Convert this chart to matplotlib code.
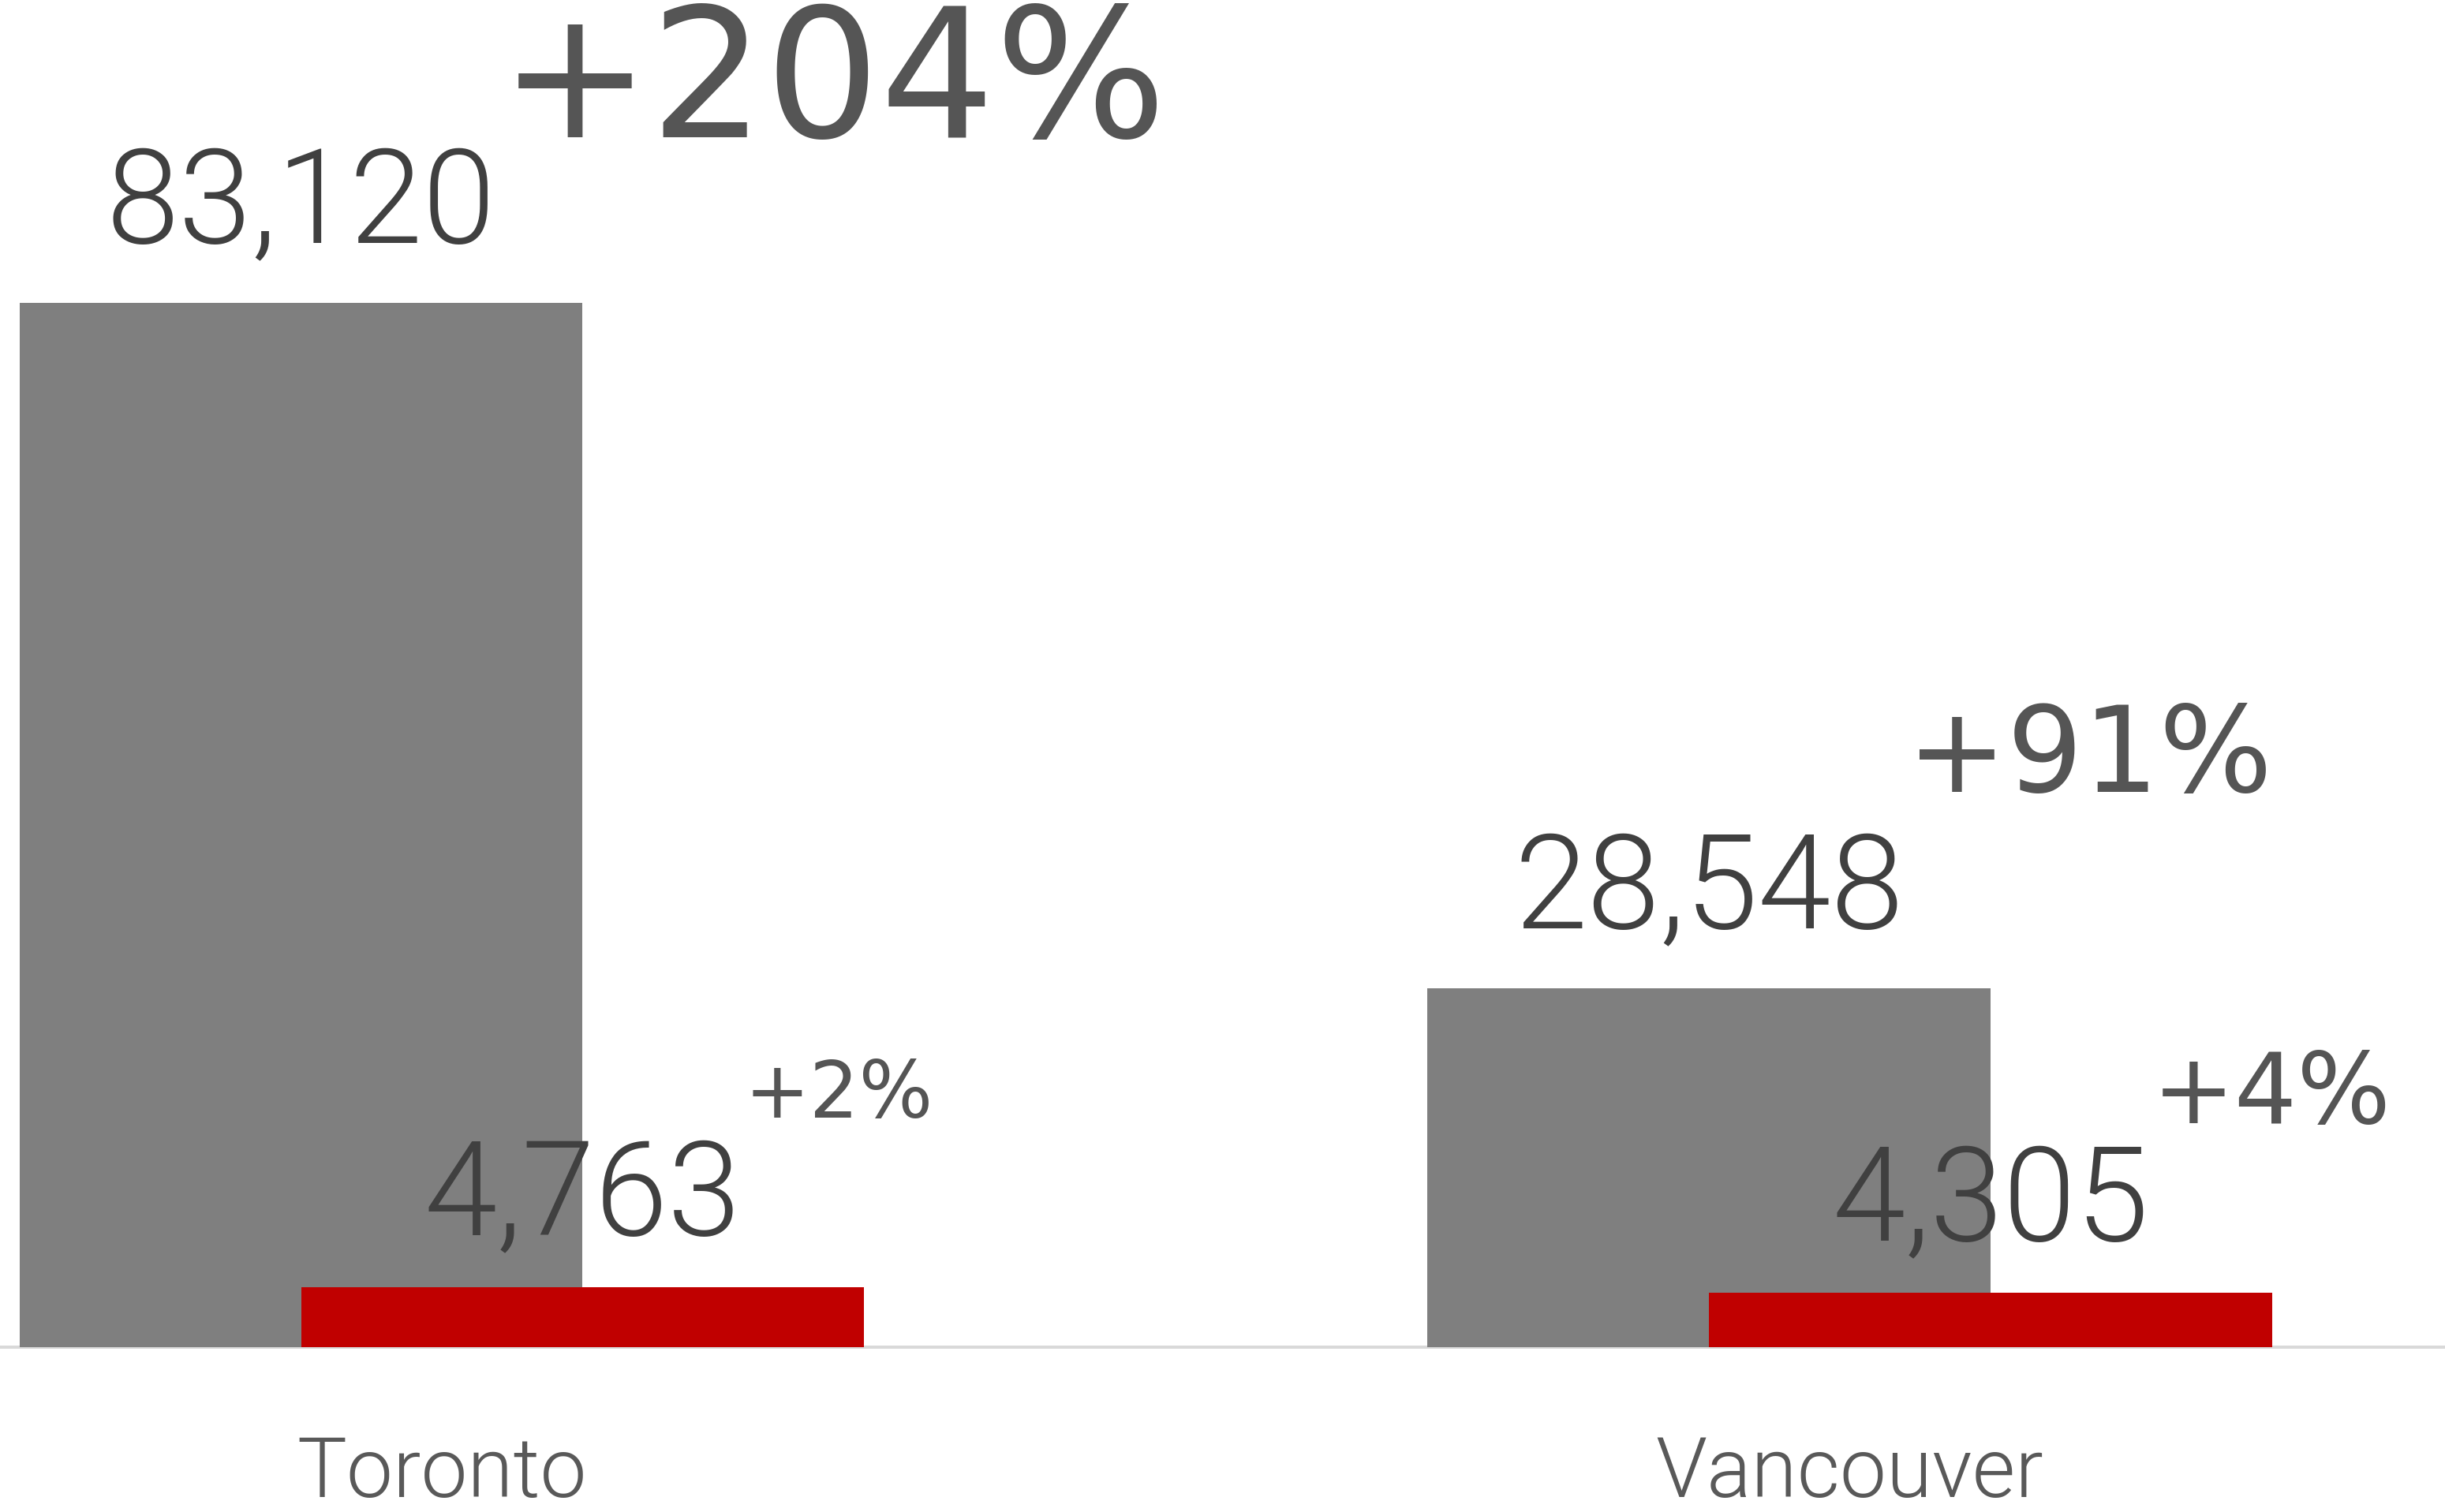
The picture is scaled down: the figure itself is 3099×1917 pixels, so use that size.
import matplotlib
matplotlib.use('Agg')
import matplotlib.pyplot as plt
import numpy as np

# Units by city: total stock and newly added, with growth rates
cities = ['Toronto', 'Vancouver']
total_units = [83120, 28548]
new_units = [4763, 4305]
total_growth = ['+204%', '+91%']
new_growth = ['+2%', '+4%']

GRAY = '#7f7f7f'
RED = '#c00000'
VALUE_COLOR = '#404040'
PCT_COLOR = '#555555'
DPI = 100
PX = 72 / DPI  # points per pixel

fig = plt.figure(figsize=(30.99, 19.17), dpi=DPI)
ax = fig.add_axes([0, 209 / 1917, 1, 1708 / 1917])

x = np.arange(len(cities))
width = 0.4
gray_bars = ax.bar(x - 0.1, total_units, width, color=GRAY, zorder=2)
red_bars = ax.bar(x + 0.1, new_units, width, color=RED, zorder=3)

ax.set_xlim(-0.3138, 1.4228)
ax.set_ylim(0, 107226)
ax.axhline(0, color='#d9d9d9', lw=4 * PX, zorder=1, clip_on=False)

for s in ax.spines.values():
    s.set_visible(False)
ax.set_yticks([])
ax.set_xticks(x)
ax.set_xticklabels(cities, fontsize=76, family='Roboto', fontweight=300,
                   color='#595959')
ax.tick_params(axis='x', length=0, pad=110 * PX)


def label_bar(bar, growth, pct_size, rise, lift):
    cx = bar.get_x() + bar.get_width() / 2
    top = bar.get_height()
    t = ax.annotate(f'{int(top):,}', (cx, top), xytext=(0, lift * PX),
                    textcoords='offset points', ha='center', va='baseline',
                    fontsize=120, family='Roboto', fontweight=300,
                    color=VALUE_COLOR, zorder=5)
    fig.canvas.draw()
    bb = t.get_window_extent()
    px, _ = ax.transData.transform((cx, top))
    dx = bb.x1 - px + 4
    ax.annotate(growth, (cx, top), xytext=(dx * PX, rise * PX),
                textcoords='offset points', ha='left', va='baseline',
                fontsize=pct_size, family='DejaVu Sans', color=PCT_COLOR,
                zorder=5)


total_pct_sizes = [165, 109]
total_pct_rise = [210, 249]
new_pct_sizes = [71, 90]
new_pct_rise = [215, 215]

for i in range(len(cities)):
    label_bar(gray_bars[i], total_growth[i], total_pct_sizes[i], total_pct_rise[i], 76)
    label_bar(red_bars[i], new_growth[i], new_pct_sizes[i], new_pct_rise[i], 66)

fig.savefig('out.png', dpi=DPI)
